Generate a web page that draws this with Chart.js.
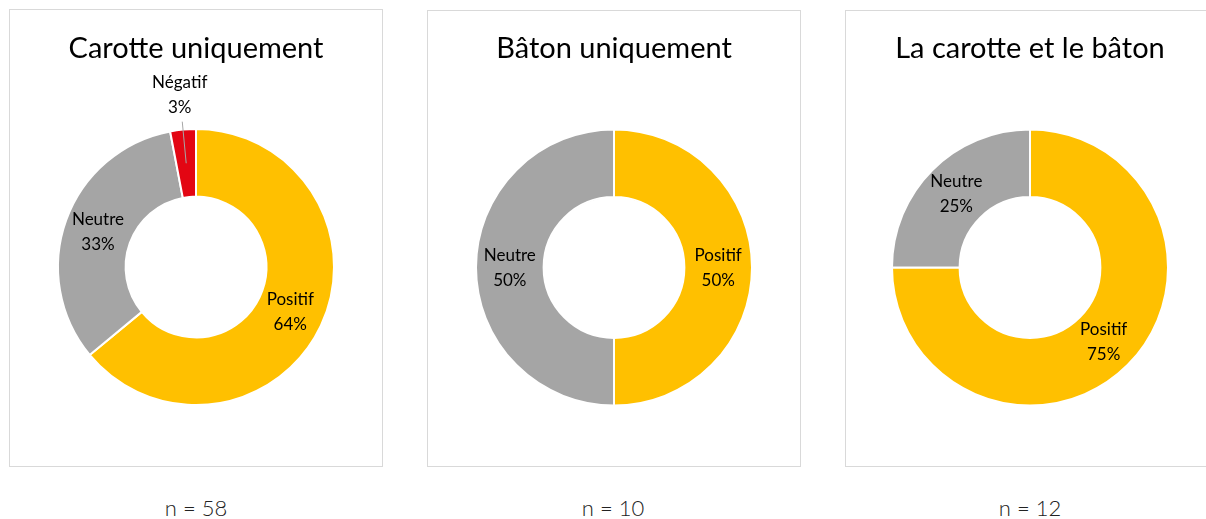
<!DOCTYPE html>
<html>
<head>
<meta charset="utf-8">
<script src="https://cdn.jsdelivr.net/npm/chart.js@4.4.1/dist/chart.umd.min.js"></script>
<style>
  html, body { margin: 0; padding: 0; background: #fff; }
  body { width: 1206px; height: 519px; overflow: hidden; position: relative; font-family: Lato, "Open Sans", sans-serif; }
  .box { position: absolute; border: 1px solid #d9d9d9; background: #fff; }
  .box canvas { position: absolute; left: 0; top: 0; }
  .title { position: absolute; left: 0; right: 0; top: 19px; text-align: center; font-size: 29px; color: #000; }
  .n { position: absolute; top: 494px; width: 200px; text-align: center; font-size: 22px; color: #222; font-weight: 300; }
</style>
</head>
<body>
<div class="box" id="b1" style="left:9px;top:9px;width:372px;height:456px;">
  <canvas id="c1" width="372" height="456"></canvas>
  <div class="title">Carotte uniquement</div>
</div>
<div class="box" id="b2" style="left:427px;top:10px;width:372px;height:455px;">
  <canvas id="c2" width="372" height="455"></canvas>
  <div class="title" style="top:18px">Bâton uniquement</div>
</div>
<div class="box" id="b3" style="left:845px;top:10px;width:368px;height:455px;">
  <canvas id="c3" width="368" height="455"></canvas>
  <div class="title" style="top:18px">La carotte et le bâton</div>
</div>
<div class="n" style="left:96px">n = 58</div>
<div class="n" style="left:513px">n = 10</div>
<div class="n" style="left:930px">n = 12</div>

<script>
// données (pourcentages)
const carotteLabels = ["Positif", "Neutre", "Négatif"];
const carotteValues = [64, 33, 3];
const batonLabels = ["Positif", "Neutre"];
const batonValues = [50, 50];
const lesDeuxLabels = ["Positif", "Neutre"];
const lesDeuxValues = [75, 25];

const colors = { "Positif": "#FFC000", "Neutre": "#A5A5A5", "Négatif": "#E30613" };

// étiquettes "Nom / xx%" sur chaque part
const sliceLabels = {
  id: "sliceLabels",
  afterDatasetsDraw(chart) {
    const ctx = chart.ctx;
    const meta = chart.getDatasetMeta(0);
    const data = chart.data.datasets[0].data;
    ctx.save();
    ctx.font = "17px Lato";
    ctx.fillStyle = "#000";
    ctx.textAlign = "center";
    ctx.textBaseline = "middle";
    meta.data.forEach((arc, i) => {
      const label = chart.data.labels[i];
      let x, y;
      if (data[i] < 10) {
        // petite part : étiquette à l'extérieur avec trait de rappel
        const p = arc.getProps(["x", "y", "startAngle", "endAngle", "innerRadius", "outerRadius"], true);
        const a = (p.startAngle + p.endAngle) / 2;
        const rMid = (p.innerRadius + p.outerRadius) / 2;
        const rLine = p.outerRadius + 8;
        const rLab = p.outerRadius + 35;
        ctx.strokeStyle = "#a6a6a6";
        ctx.lineWidth = 1;
        ctx.beginPath();
        ctx.moveTo(p.x + Math.cos(a) * rLine, p.y + Math.sin(a) * rLine);
        ctx.lineTo(p.x + Math.cos(a) * rMid, p.y + Math.sin(a) * rMid);
        ctx.stroke();
        x = p.x + Math.cos(a) * rLab;
        y = p.y + Math.sin(a) * rLab;
      } else {
        const c = arc.getCenterPoint();
        x = c.x;
        y = c.y;
      }
      ctx.fillText(label, x, y - 12);
      ctx.fillText(data[i] + "%", x, y + 13);
    });
    ctx.restore();
  }
};

function makeDonut(id, labels, values) {
  new Chart(document.getElementById(id), {
    type: "doughnut",
    data: {
      labels: labels,
      datasets: [{
        data: values,
        backgroundColor: labels.map(l => colors[l]),
        borderColor: "#fff",
        borderWidth: 2
      }]
    },
    options: {
      responsive: false,
      animation: false,
      radius: 138,
      cutout: "51%",
      layout: { padding: { top: 100, bottom: 42 } },
      plugins: { legend: { display: false }, tooltip: { enabled: false } }
    },
    plugins: [sliceLabels]
  });
}

makeDonut("c1", carotteLabels, carotteValues);
makeDonut("c2", batonLabels, batonValues);
makeDonut("c3", lesDeuxLabels, lesDeuxValues);
</script>
</body>
</html>
